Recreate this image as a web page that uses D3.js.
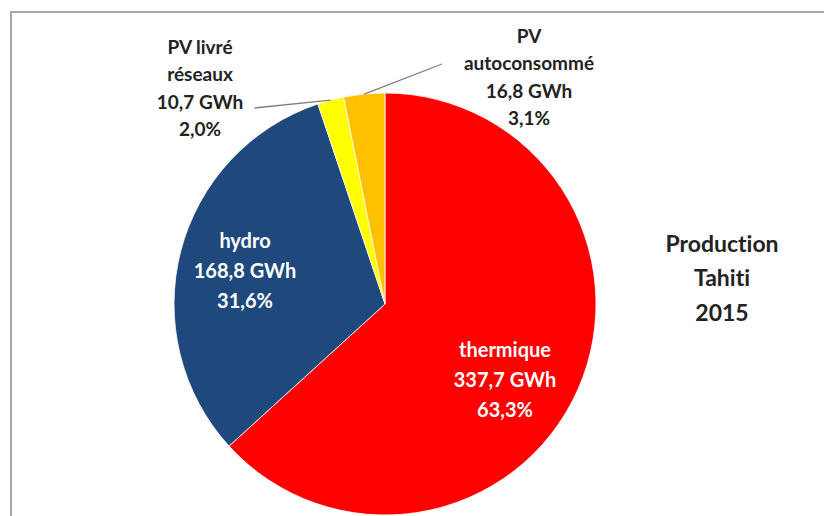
<!DOCTYPE html>
<html>
<head>
<meta charset="utf-8">
<script src="https://cdn.jsdelivr.net/npm/d3@7"></script>
<style>
  body { margin: 0; background: #fff; }
  text { font-family: Lato, "Open Sans", sans-serif; font-weight: bold; font-variant-ligatures: none; }
</style>
</head>
<body>
<div id="vis"></div>
<script>
// Production électrique Tahiti 2015
const sources = ["thermique", "hydro", "PV livré réseaux", "PV autoconsommé"];
const gwh = [337.7, 168.8, 10.7, 16.8];
const pct = ["63,3%", "31,6%", "2,0%", "3,1%"];
const gwhLabels = ["337,7 GWh", "168,8 GWh", "10,7 GWh", "16,8 GWh"];
const titleLines = ["Production", "Tahiti", "2015"];

const width = 824, height = 516;
const cx = 385, cy = 304, radius = 211;
const colors = d3.scaleOrdinal().domain(sources).range(["#ff0000", "#1f497d", "#ffff00", "#ffc000"]);

// label text lines and where they sit (layout only)
const labelLines = [
  ["thermique", gwhLabels[0], pct[0]],
  ["hydro", gwhLabels[1], pct[1]],
  ["PV livré", "réseaux", gwhLabels[2], pct[2]],
  ["PV", "autoconsommé", gwhLabels[3], pct[3]]
];
const labelPos = [
  {x: 505, y: 352, dy: 30, size: 20, color: "#fff"},
  {x: 245, y: 243, dy: 30, size: 20, color: "#fff"},
  {x: 200, y: 49, dy: 27.5, size: 19, color: "#222"},
  {x: 529, y: 38, dy: 27.5, size: 19, color: "#222"}
];
// leader line end (label side)
const leaderEnd = [null, null, [254, 108], [442, 64]];

const svg = d3.select("#vis").append("svg").attr("width", width).attr("height", height);

// chart frame
svg.append("path")
  .attr("d", `M11,${height} V12 H${width}`)
  .attr("fill", "none").attr("stroke", "#a6a6a6").attr("stroke-width", 2);

const pie = d3.pie().sort(null).value(d => d)(gwh);
const arc = d3.arc().innerRadius(0).outerRadius(radius);

const g = svg.append("g").attr("transform", `translate(${cx},${cy})`);
g.selectAll("path.slice").data(pie).enter().append("path")
  .attr("class", "slice")
  .attr("d", arc)
  .attr("fill", (d, i) => colors(sources[i]))
  .attr("stroke", "#fff").attr("stroke-width", 0.8);

// leader lines for the small PV slices
pie.forEach((d, i) => {
  if (!leaderEnd[i]) return;
  const a = (d.startAngle + d.endAngle) / 2;
  const x0 = cx + radius * Math.sin(a), y0 = cy - radius * Math.cos(a);
  svg.append("line")
    .attr("x1", x0).attr("y1", y0)
    .attr("x2", leaderEnd[i][0]).attr("y2", leaderEnd[i][1])
    .attr("stroke", "#7f7f7f").attr("stroke-width", 1.3);
});

labelLines.forEach((lines, i) => {
  const p = labelPos[i];
  const t = svg.append("text")
    .attr("text-anchor", "middle")
    .attr("font-size", p.size)
    .attr("fill", p.color);
  lines.forEach((s, j) => {
    t.append("tspan").attr("x", p.x).attr("y", p.y + j * p.dy).attr("dominant-baseline", "middle").text(s);
  });
});

const title = svg.append("text").attr("text-anchor", "middle").attr("font-size", 23).attr("fill", "#222");
titleLines.forEach((s, j) => {
  title.append("tspan").attr("x", 722).attr("y", 246 + j * 34.5).attr("dominant-baseline", "middle").text(s);
});
</script>
</body>
</html>
